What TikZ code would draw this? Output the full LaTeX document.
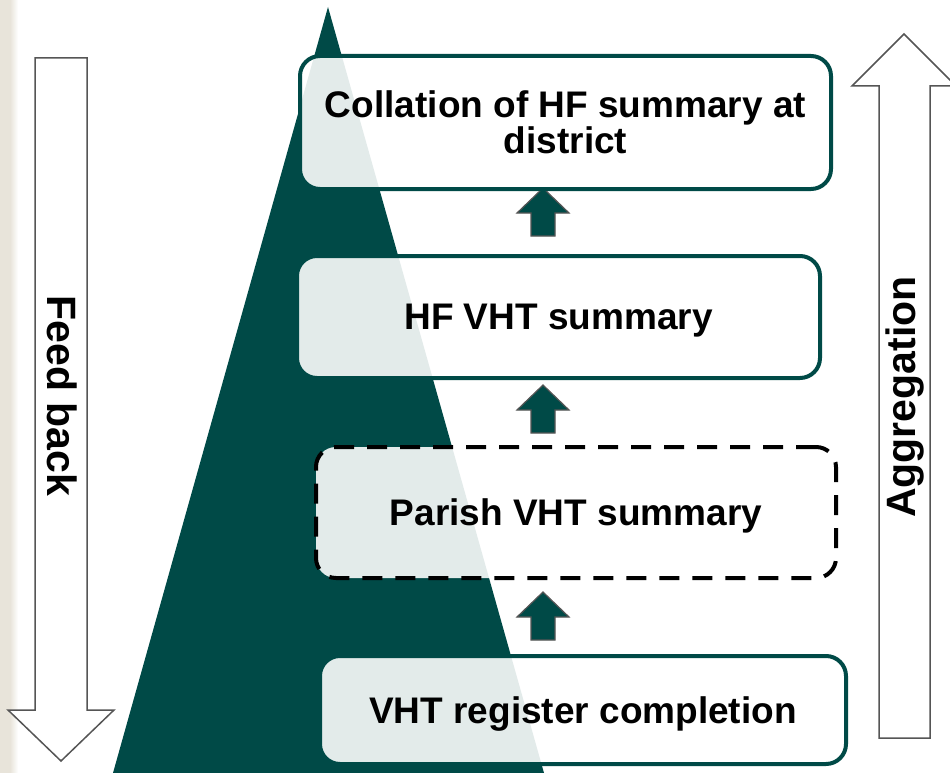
\documentclass[tikz,border=0pt]{standalone}
\usepackage{fontspec}
\setmainfont{Liberation Sans}
\definecolor{pyramidteal}{RGB}{0,74,71}
\definecolor{outlinegrey}{RGB}{85,85,85}
\definecolor{stripbeige}{RGB}{232,228,218}
\tikzstyle{stage}=[draw=pyramidteal, line width=4pt, rounded corners=20pt, fill=white, fill opacity=0.89, text opacity=1, font=\fontsize{37}{37}\selectfont\bfseries, align=center, text depth=0pt]
\tikzstyle{draft stage}=[stage, draw=black, dash pattern=on 20pt off 13pt]
\tikzstyle{big arrow}=[draw=outlinegrey, line width=1.5pt, fill=white]
\tikzstyle{step arrow}=[draw=outlinegrey, line width=1.2pt, fill=pyramidteal]
\tikzstyle{side label}=[font=\fontsize{41}{41}\selectfont\bfseries]

\begin{document}
\begin{tikzpicture}[x=1pt, y=-1pt]
      \useasboundingbox (0,0) rectangle (950,773);
      \fill[white] (0,0) rectangle (950,773);
      \fill[stripbeige] (0,0) rectangle (10,773);
      \shade[left color=stripbeige, right color=white] (10,0) rectangle (18,773);

      \fill[pyramidteal] (328,7) -- (544,773) -- (113,773) -- cycle;

      \draw[big arrow] (35,58) -- (87,58) -- (87,710) -- (114,710) -- (61,761) -- (8,710) -- (35,710) -- cycle;
      \node[side label, rotate=-90] (feedback) at (62,396) {Feed back};

      \draw[big arrow] (879,738) -- (930,738) -- (930,86) -- (956,86) -- (904,34) -- (852,86) -- (879,86) -- cycle;
      \node[side label, rotate=90] (aggregation) at (905,397) {Aggregation};

      \foreach \tipy in {188,385,592} {
        \draw[step arrow] (543,\tipy) -- (569,\tipy+25) -- (555,\tipy+25) -- (555,\tipy+48)
          -- (531,\tipy+48) -- (531,\tipy+25) -- (517,\tipy+25) -- cycle;
      }

      \node[stage, minimum width=531pt, minimum height=133pt] (district) at (565.5,122.5) {Collation of HF summary at\\[-1pt]district};
      \node[stage, minimum width=523pt, minimum height=122pt] (hfsummary) at (558.5,317) {HF VHT summary};
      \node[draft stage, minimum width=520pt, minimum height=131pt] (parish) at (576,512.5) {Parish VHT summary};
      \node[stage, minimum width=526pt, minimum height=108pt] (register) at (583,710) {VHT register completion};
    \end{tikzpicture}
\end{document}
